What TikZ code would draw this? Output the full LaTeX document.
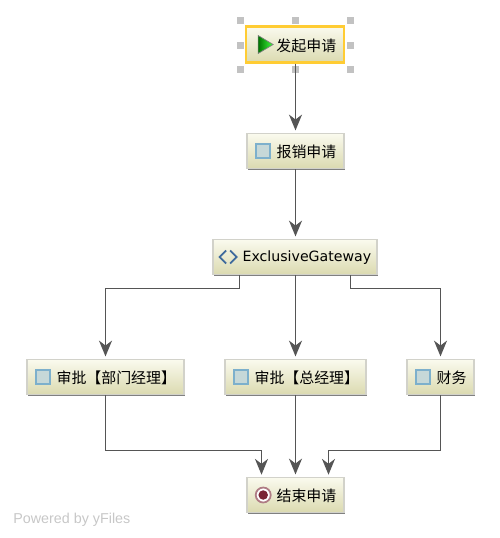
\documentclass[tikz,border=0pt]{standalone}
\usepackage{fontspec}
\setmainfont{DejaVu Sans}
\newfontfamily\cjk{Noto Sans CJK SC}
\newfontfamily\yfont{Liberation Sans}
\usetikzlibrary{calc,shadows,arrows.meta}
\definecolor{boxtop}{HTML}{FAFAEE}
\definecolor{boxbot}{HTML}{DBDAB0}
\definecolor{boxline}{HTML}{D2D2CA}
\definecolor{flowgray}{HTML}{555555}
\definecolor{picked}{HTML}{FFCC33}
\definecolor{handle}{HTML}{C2C2C2}
\definecolor{tasksky}{HTML}{C6D8D8}
\definecolor{taskedge}{HTML}{7DB0CC}
\definecolor{gwblue}{HTML}{3F6A9C}
\definecolor{stopred}{HTML}{7A2434}
\tikzset{
  flowbox/.style={rectangle,draw=boxline,line width=0.9pt,top color=boxtop,bottom color=boxbot,
    minimum height=0.7cm,inner sep=0pt},
  boxshadow/.style={general shadow={shadow xshift=0.8pt,shadow yshift=-0.8pt,fill=gray}},
  boxlabel/.style={anchor=west,inner sep=0pt,yshift=-0.5pt,font=\cjk\fontsize{8.5}{10}\selectfont},
  flow/.style={flowgray,line width=1pt,-{Stealth[length=9pt,width=7.4pt,inset=2.8pt]},shorten >=1.3pt},
  taskicon/.style={rectangle,draw=taskedge,fill=tasksky,line width=0.9pt,minimum size=0.28cm,inner sep=0pt},
  selhandle/.style={rectangle,fill=handle,minimum size=0.14cm,inner sep=0pt},
}
\begin{document}
\begin{tikzpicture}[x=0.02cm,y=-0.02cm]
  \useasboundingbox (0,0) rectangle (500,538);
  % ----- selection handles -----
  \foreach \hx/\hy/\hname in {240.5/20.5/a,295.5/20.5/b,350.5/20.5/c,240.5/45/d,350.5/45/e,240.5/69/f,295.5/69/g,350.5/69/h}{
    \node[selhandle] (handle\hname) at (\hx,\hy){};}
  % ----- boxes -----
  \node[flowbox,minimum width=1.95cm,minimum height=0.72cm,draw=picked,line width=1.3pt] (start) at (295,44.5){};
  \node[flowbox,boxshadow,minimum width=1.94cm] (claim) at (295.5,151){};
  \node[flowbox,boxshadow,minimum width=3.28cm] (gateway) at (295,257){};
  \node[flowbox,boxshadow,minimum width=3.14cm] (dept) at (105.5,377){};
  \node[flowbox,boxshadow,minimum width=2.82cm] (boss) at (295.5,377){};
  \node[flowbox,boxshadow,minimum width=1.34cm] (money) at (440.5,377){};
  \node[flowbox,boxshadow,minimum width=1.94cm] (finish) at (295.5,495){};
  % ----- labels -----
  \node[boxlabel] (startlabel) at ($(start.west)+(31,0)$){发起申请};
  \node[boxlabel] (claimlabel) at ($(claim.west)+(30,0)$){报销申请};
  \node[boxlabel,font=\fontsize{8.05}{10}\selectfont] (gatewaylabel) at ($(gateway.west)+(30,0)$){ExclusiveGateway};
  \node[boxlabel] (deptlabel) at ($(dept.west)+(30,0)$){审批【部门经理】};
  \node[boxlabel] (bosslabel) at ($(boss.west)+(30,0)$){审批【总经理】};
  \node[boxlabel] (moneylabel) at ($(money.west)+(30,0)$){财务};
  \node[boxlabel] (finishlabel) at ($(finish.west)+(30,0)$){结束申请};
  % ----- icons -----
  \foreach \b in {claim,dept,boss,money}{
    \node[taskicon] (\b icon) at ($(\b.west)+(17,0)$){};}
  \shade[left color=green!45!black,right color=green!75!white,draw=gray,line width=0.4pt]
    ($(start.west)+(13,-9)$) -- ($(start.west)+(28,0)$) -- ($(start.west)+(13,9)$) -- cycle;
  \draw[gwblue,line width=1pt] ($(gateway.west)+(14,-6.5)$) -- ($(gateway.west)+(7.5,0)$) -- ($(gateway.west)+(14,6.5)$);
  \draw[gwblue,line width=1pt] ($(gateway.west)+(18,-6.5)$) -- ($(gateway.west)+(24.5,0)$) -- ($(gateway.west)+(18,6.5)$);
  \node[circle,draw=stopred!60!white,fill=white,line width=1pt,minimum size=0.3cm,inner sep=0pt] (finishring) at ($(finish.west)+(17,0)$){};
  \node[circle,fill=stopred,minimum size=0.19cm,inner sep=0pt] (finishdot) at (finishring){};
  % ----- helper points -----
  \coordinate (gwleft) at (239.5,275);
  \coordinate (gwleftbend) at (239.5,288.5);
  \coordinate (gwright) at (350.5,275);
  \coordinate (gwrightbend) at (350.5,288.5);
  \coordinate (inleft) at (261.5,477);
  \coordinate (inleftbend) at (261.5,450.5);
  \coordinate (inright) at (328.5,477);
  \coordinate (inrightbend) at (328.5,450.5);
  % ----- connectors -----
  \draw[flow] (start.south -| claim.north) -- (claim.north);
  \draw[flow] (claim.south) -- (gateway.north -| claim.south);
  \draw[flow] (gwleft) -- (gwleftbend) -| (dept.north);
  \draw[flow] (gateway.south -| boss.north) -- (boss.north);
  \draw[flow] (gwright) -- (gwrightbend) -| (money.north);
  \draw[flow] (dept.south) |- (inleftbend) -- (inleft);
  \draw[flow] (boss.south) -- (finish.north);
  \draw[flow] (money.south) |- (inrightbend) -- (inright);
  % footer
  \node[anchor=west,inner sep=0pt,text=black!22,font=\yfont\fontsize{8.15}{10}\selectfont] (poweredby) at (13,519.5){Powered by yFiles};
\end{tikzpicture}
\end{document}
